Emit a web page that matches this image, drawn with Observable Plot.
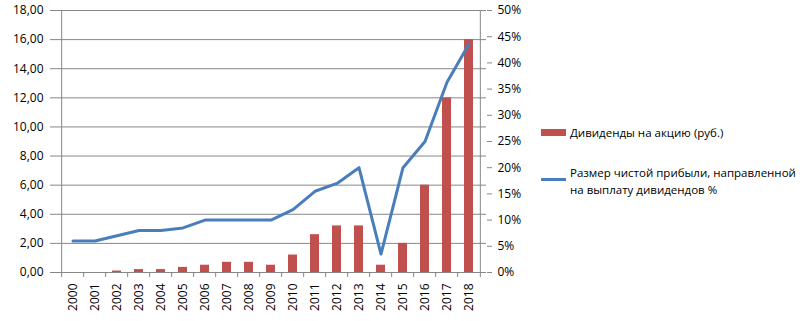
<!DOCTYPE html>
<html><head><meta charset="utf-8">
<script src="https://cdn.jsdelivr.net/npm/d3@7"></script>
<script src="https://cdn.jsdelivr.net/npm/@observablehq/plot@0.6"></script>
<style>
body{margin:0;background:#fff;}
#wrap{position:relative;width:807px;height:321px;font-family:"Open Sans",sans-serif;overflow:hidden;}
.lg{position:absolute;font-size:11.5px;line-height:17px;color:#000;white-space:nowrap;}
.sw{position:absolute;}
</style></head><body><div id="wrap"></div>
<script>
const years = ["2000","2001","2002","2003","2004","2005","2006","2007","2008","2009","2010","2011","2012","2013","2014","2015","2016","2017","2018"];
const dividends = [0,0,0.1,0.2,0.2,0.35,0.5,0.7,0.7,0.5,1.2,2.6,3.2,3.2,0.5,2.0,6.0,12.0,16.0];
const payoutPct = [6,6,7,8,8,8.5,10,10,10,10,12,15.5,17,20,3.5,20,25,36.3,43.6];
const leftTicks = [0,2,4,6,8,10,12,14,16,18];
const rightTicks = [0,5,10,15,20,25,30,35,40,45,50];
const seriesNames = ["Дивиденды на акцию (руб.)", "Размер чистой прибыли, направленной", "на выплату дивидендов %"];

const W = 807, H = 321, mL = 55, mR = 321, mT = 10, mB = 49;
const yMax = 18, pctMax = 50, k = yMax / pctMax;
const step = (W - mL - mR) / years.length;
const gridColor = "#878787";
const rows = years.map((y, i) => ({year: y, div: dividends[i], pct: payoutPct[i] * k}));
const fmtL = d => d3.format(".2f")(d).replace(".", ",");
const tickLen = 5 * yMax / (H - mT - mB);

const chart = Plot.plot({
  width: W, height: H,
  marginLeft: mL, marginRight: mR, marginTop: mT, marginBottom: mB,
  style: {fontFamily: '"Open Sans", sans-serif', fontSize: "12px", background: "#fff", color: "#000"},
  x: {type: "band", domain: years, paddingInner: 0.6, paddingOuter: 0.3, label: null},
  y: {domain: [0, yMax], label: null},
  marks: [
    Plot.ruleY(leftTicks, {stroke: gridColor, strokeWidth: 1, strokeOpacity: 1}),
    Plot.ruleX([years[0]], {dx: -step / 2, y1: 0, y2: yMax, stroke: gridColor}),
    Plot.ruleX([years[years.length - 1]], {dx: step / 2, y1: 0, y2: yMax, stroke: gridColor}),
    Plot.ruleX(years, {dx: -step / 2, y1: 0, y2: -tickLen, stroke: gridColor}),
    Plot.ruleX([years[years.length - 1]], {dx: step / 2, y1: 0, y2: -tickLen, stroke: gridColor}),
    Plot.barY(rows, {x: "year", y: "div", fill: "#c0504d"}),
    Plot.lineY(rows, {x: "year", y: "pct", stroke: "#4a7ebb", strokeWidth: 3, strokeLinejoin: "round"}),
    Plot.axisY(leftTicks, {anchor: "left", tickSize: 5, tickPadding: 7, tickFormat: fmtL, stroke: gridColor, label: null}),
    Plot.axisY(rightTicks.map(p => p * k), {anchor: "right", tickSize: 5, tickPadding: 6, tickFormat: d => Math.round(d / k) + "%", stroke: gridColor, label: null}),
    Plot.axisX({tickSize: 0, tickRotate: -90, tickPadding: 11, label: null})
  ]
});
const wrap = document.getElementById("wrap");
wrap.appendChild(chart);

function add(html, cls, css) {
  const d = document.createElement("div");
  d.className = cls; d.innerHTML = html; Object.assign(d.style, css); wrap.appendChild(d);
}
add("", "sw", {left: "541px", top: "129px", width: "25px", height: "7px", background: "#c0504d"});
add(seriesNames[0], "lg", {left: "570px", top: "124px"});
add("", "sw", {left: "541px", top: "178px", width: "25px", height: "2.5px", background: "#4a7ebb"});
add(seriesNames[1] + "<br>" + seriesNames[2], "lg", {left: "570px", top: "164px"});
</script></body></html>
